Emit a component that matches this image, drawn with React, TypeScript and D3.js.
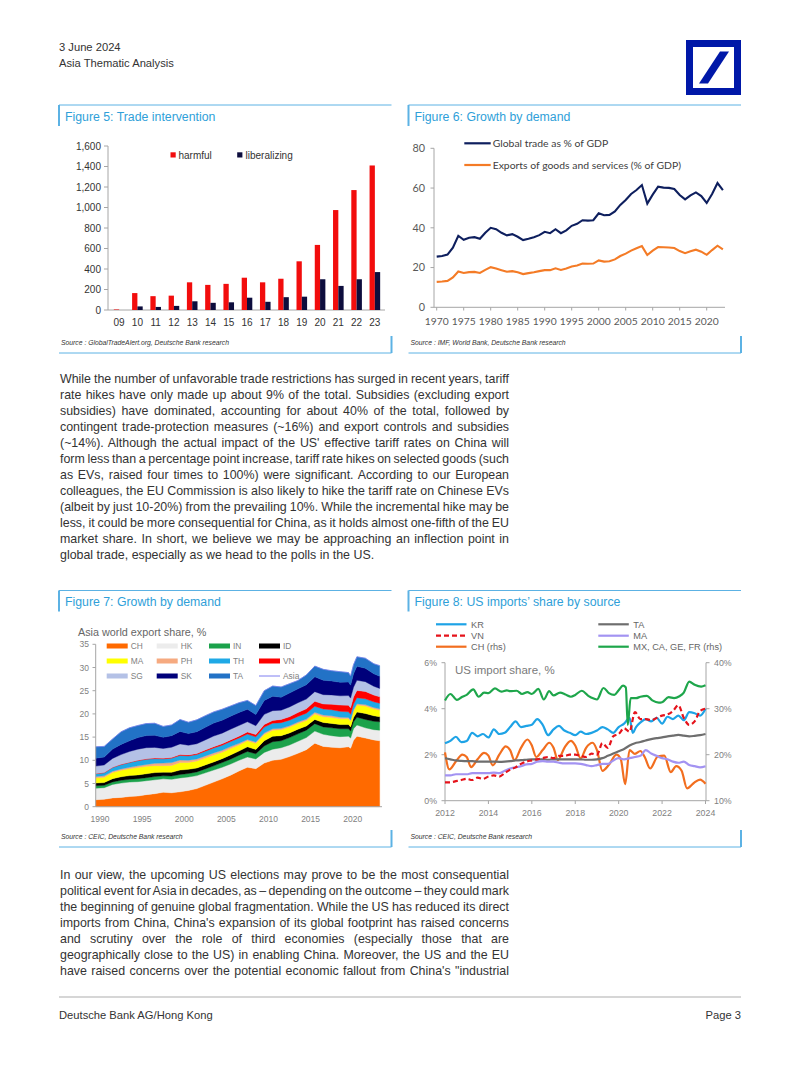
import React, { useLayoutEffect, useRef } from "react";
import * as d3 from "d3";

// ---------------- Figure 5 data ----------------
const F5_CATS = ["09", "10", "11", "12", "13", "14", "15", "16", "17", "18", "19", "20", "21", "22", "23"];
const F5_HARMFUL = [5, 165, 135, 140, 270, 245, 255, 315, 270, 305, 475, 635, 975, 1170, 1410];
const F5_LIBERAL = [0, 35, 30, 40, 85, 70, 75, 120, 80, 125, 130, 300, 235, 300, 370];
const F5_YTICKS = [0, 200, 400, 600, 800, 1000, 1200, 1400, 1600];

// ---------------- Figure 6 data ----------------
const F6_START = 1970;
const F6_TRADE = [
  25.5, 25.8, 26.5, 30.0, 36.0, 34.0, 35.0, 35.3, 34.5, 37.5,
  40.0, 39.3, 37.5, 36.2, 36.8, 35.5, 33.8, 34.5, 35.3, 36.3,
  38.0, 37.3, 39.3, 37.3, 38.7, 41.0, 42.0, 43.8, 43.6, 43.8,
  47.3, 46.3, 46.5, 48.2, 51.5, 54.0, 57.0, 59.0, 61.5, 52.2,
  56.7, 60.7, 60.2, 60.1, 59.5, 56.5, 54.3, 56.3, 57.8, 56.0,
  52.5, 57.0, 62.5, 59.0,
];
const F6_EXPORTS = [
  12.8, 13.0, 13.3, 15.0, 18.0, 17.3, 17.7, 17.8, 17.3, 18.8,
  20.2, 19.5, 18.7, 17.9, 18.2, 17.6, 16.7, 17.2, 17.6, 18.2,
  18.7, 18.7, 19.6, 18.8, 19.5, 20.5, 21.0, 22.0, 21.9, 22.0,
  23.6, 23.0, 23.2, 24.1, 25.8, 27.0, 28.5, 29.7, 30.8, 26.3,
  28.5, 30.3, 30.2, 30.1, 29.8, 28.3, 27.2, 28.2, 29.0, 28.0,
  26.4, 28.8, 31.0, 29.2,
];
const F6_YTICKS = [0, 20, 40, 60, 80];
const F6_XTICKS = [1970, 1975, 1980, 1985, 1990, 1995, 2000, 2005, 2010, 2015, 2020];
const F6_LABELS = ["Global trade as % of GDP", "Exports of goods and services (% of GDP)"];

// ---------------- Figure 7 data ----------------
const F7_DATES = [
  1990, 1991, 1992, 1993, 1994, 1995, 1996, 1997, 1998, 1999,
  2000, 2001, 2002, 2003, 2004, 2005, 2006, 2007, 2008, 2009,
  2010, 2011, 2012, 2013, 2014, 2015, 2016, 2017, 2018, 2019,
  2020, 2020.25, 2020.6, 2021, 2022, 2023, 2023.7,
];
const F7_CH = [1.5, 1.6, 1.9, 2.0, 2.2, 2.3, 2.6, 2.8, 3.1, 3.0, 3.2, 3.5, 3.9, 4.6, 5.3, 6.0, 6.8, 7.7, 8.5, 8.2, 9.4, 10.0, 10.2, 10.8, 11.5, 12.3, 13.7, 13.0, 12.8, 12.7, 12.9, 12.6, 14.3, 15.2, 14.8, 14.4, 14.2];
const F7_HK = [2.5, 2.5, 2.9, 3.1, 3.1, 3.1, 3.0, 3.0, 2.9, 2.9, 3.0, 2.9, 2.8, 2.7, 2.6, 2.5, 2.4, 2.3, 2.2, 2.1, 2.3, 2.4, 2.5, 2.5, 2.6, 2.6, 2.6, 2.6, 2.5, 2.4, 2.3, 2.2, 2.5, 2.4, 2.2, 2.2, 2.3];
const F7_IN = [0.5, 0.5, 0.55, 0.6, 0.6, 0.65, 0.65, 0.7, 0.65, 0.7, 0.75, 0.75, 0.8, 0.85, 0.9, 1.0, 1.05, 1.1, 1.2, 1.1, 1.4, 1.6, 1.5, 1.6, 1.6, 1.6, 1.6, 1.6, 1.7, 1.7, 1.6, 1.5, 1.5, 1.7, 1.8, 1.8, 1.8];
const F7_ID = [0.6, 0.6, 0.7, 0.75, 0.8, 0.8, 0.85, 0.85, 0.8, 0.8, 0.95, 0.9, 0.85, 0.85, 0.85, 0.85, 0.9, 0.9, 1.0, 0.95, 1.1, 1.2, 1.1, 1.0, 1.0, 0.9, 0.9, 0.95, 0.95, 0.9, 0.9, 0.9, 0.9, 1.1, 1.3, 1.2, 1.1];
const F7_MA = [1.1, 1.15, 1.3, 1.4, 1.5, 1.6, 1.6, 1.5, 1.4, 1.5, 1.6, 1.5, 1.5, 1.5, 1.5, 1.4, 1.4, 1.3, 1.3, 1.3, 1.35, 1.3, 1.3, 1.25, 1.25, 1.2, 1.2, 1.25, 1.3, 1.25, 1.25, 1.2, 1.4, 1.5, 1.6, 1.5, 1.4];
const F7_PH = [0.3, 0.3, 0.3, 0.3, 0.3, 0.35, 0.4, 0.5, 0.55, 0.6, 0.55, 0.45, 0.45, 0.45, 0.45, 0.4, 0.4, 0.35, 0.3, 0.3, 0.35, 0.3, 0.3, 0.3, 0.3, 0.3, 0.35, 0.35, 0.35, 0.35, 0.3, 0.3, 0.3, 0.3, 0.3, 0.3, 0.3];
const F7_TH = [0.6, 0.65, 0.8, 0.9, 1.0, 1.1, 1.1, 1.0, 0.9, 0.95, 1.0, 0.95, 0.95, 1.0, 1.05, 1.1, 1.1, 1.15, 1.15, 1.1, 1.25, 1.2, 1.2, 1.2, 1.2, 1.25, 1.3, 1.3, 1.3, 1.25, 1.2, 1.2, 1.25, 1.3, 1.25, 1.2, 1.2];
const F7_VN = [0.05, 0.05, 0.06, 0.08, 0.1, 0.1, 0.12, 0.13, 0.15, 0.16, 0.18, 0.2, 0.22, 0.25, 0.28, 0.3, 0.35, 0.4, 0.45, 0.5, 0.55, 0.6, 0.7, 0.75, 0.85, 0.95, 1.05, 1.1, 1.2, 1.35, 1.4, 1.4, 1.5, 1.55, 1.6, 1.45, 1.4];
const F7_SG = [1.6, 1.65, 1.9, 2.1, 2.3, 2.4, 2.4, 2.3, 2.1, 2.2, 2.3, 2.1, 2.1, 2.2, 2.3, 2.3, 2.3, 2.3, 2.2, 1.9, 2.2, 2.1, 2.0, 2.1, 2.1, 2.1, 2.1, 2.0, 2.0, 2.0, 2.1, 2.1, 2.1, 2.2, 2.1, 1.9, 1.8];
const F7_SK = [1.7, 1.7, 2.0, 2.2, 2.3, 2.5, 2.6, 2.6, 2.4, 2.5, 2.7, 2.5, 2.6, 2.7, 2.8, 2.8, 2.8, 2.8, 2.7, 2.4, 3.0, 3.1, 2.8, 3.0, 3.0, 3.1, 3.2, 3.1, 3.0, 2.9, 2.9, 2.8, 2.9, 3.0, 2.9, 2.7, 2.6];
const F7_TA = [2.45, 2.3, 2.2, 2.7, 2.8, 2.6, 2.6, 2.6, 2.35, 2.3, 2.55, 2.45, 2.55, 2.5, 2.4, 2.35, 2.2, 2.1, 1.9, 1.95, 2.1, 2.2, 2.2, 2.0, 1.8, 2.1, 2.3, 2.35, 2.2, 2.3, 2.05, 1.95, 1.95, 2.05, 2.15, 2.15, 2.3];
const F7_KEYS = ["CH", "HK", "IN", "ID", "MA", "PH", "TH", "VN", "SG", "SK", "TA"];
const F7_SERIES = [F7_CH, F7_HK, F7_IN, F7_ID, F7_MA, F7_PH, F7_TH, F7_VN, F7_SG, F7_SK, F7_TA];
const F7_LEGEND = ["CH", "HK", "IN", "ID", "MA", "PH", "TH", "VN", "SG", "SK", "TA", "Asia"];
const F7_YTICKS = [0, 5, 10, 15, 20, 25, 30, 35];
const F7_XTICKS = [1990, 1995, 2000, 2005, 2010, 2015, 2020];

// ---------------- Figure 8 data ----------------
const F8_START = 2012; // quarterly series below start here
const F8_TA = [1.85, 1.8, 1.75, 1.73, 1.72, 1.72, 1.7, 1.7, 1.7, 1.7, 1.69, 1.7, 1.72, 1.75, 1.76, 1.78, 1.8, 1.8, 1.8, 1.78, 1.8, 1.8, 1.8, 1.8, 1.8, 1.8, 1.78, 1.78, 1.8, 1.85, 1.95, 2.05, 2.15, 2.25, 2.4, 2.5, 2.55, 2.62, 2.68, 2.72, 2.75, 2.8, 2.83, 2.86, 2.83, 2.8, 2.82, 2.85, 2.9];
const F8_MA = [1.1, 1.1, 1.15, 1.15, 1.15, 1.2, 1.2, 1.2, 1.2, 1.22, 1.2, 1.3, 1.4, 1.45, 1.5, 1.58, 1.6, 1.7, 1.72, 1.7, 1.7, 1.65, 1.62, 1.62, 1.62, 1.6, 1.55, 1.5, 1.55, 1.6, 1.6, 1.75, 1.85, 1.8, 1.85, 1.9, 1.95, 2.2, 2.05, 1.95, 1.85, 1.8, 1.7, 1.65, 1.7, 1.55, 1.5, 1.45, 1.5];
const F8_VN = [0.8, 0.8, 0.85, 0.9, 0.95, 0.9, 1.0, 0.95, 1.05, 1.1, 1.05, 1.2, 1.35, 1.45, 1.6, 1.7, 1.75, 1.8, 1.85, 1.9, 1.85, 1.95, 1.95, 2.0, 2.0, 1.95, 1.9, 2.05, 2.0, 2.5, 2.3, 2.8, 2.9, 3.15, 3.0, 3.85, 3.55, 3.55, 3.5, 3.6, 3.7, 3.75, 3.9, 4.15, 3.6, 3.3, 3.45, 3.9, 4.0];
const F8_KR: [number, number][] = [
  [2012.0, 2.5], [2012.25, 2.6], [2012.5, 2.78], [2012.75, 2.55],
  [2013.0, 2.6], [2013.25, 2.95], [2013.5, 2.8], [2013.75, 2.9],
  [2014.0, 2.75], [2014.25, 3.1], [2014.5, 2.9], [2014.75, 2.95],
  [2015.0, 3.2], [2015.25, 3.45], [2015.5, 3.2], [2015.75, 3.25],
  [2016.0, 3.3], [2016.25, 3.55], [2016.5, 3.3], [2016.75, 2.85],
  [2017.0, 3.1], [2017.25, 3.25], [2017.5, 3.05], [2017.75, 2.95],
  [2018.0, 2.85], [2018.25, 3.0], [2018.5, 2.9], [2018.75, 2.95],
  [2019.0, 3.05], [2019.25, 3.2], [2019.5, 3.1], [2019.75, 2.95],
  [2020.0, 3.2], [2020.25, 3.35], [2020.5, 3.6], [2020.65, 2.95], [2020.8, 3.2],
  [2021.0, 3.4], [2021.25, 3.55], [2021.5, 3.45], [2021.75, 3.6],
  [2022.0, 3.35], [2022.25, 3.65], [2022.5, 3.55], [2022.75, 3.7],
  [2023.0, 3.5], [2023.25, 3.85], [2023.5, 3.8], [2023.75, 3.7],
  [2024.0, 4.0],
];
const F8_CH: [number, number][] = [
  [2012.0, 20.5], [2012.2, 16.8], [2012.5, 18.5], [2012.8, 20.0],
  [2013.0, 19.5], [2013.2, 17.3], [2013.5, 19.0], [2013.8, 20.4],
  [2014.0, 19.8], [2014.2, 17.7], [2014.5, 20.0], [2014.8, 21.8],
  [2015.0, 21.0], [2015.2, 18.8], [2015.5, 21.5], [2015.8, 23.3],
  [2016.0, 22.0], [2016.2, 19.5], [2016.5, 21.0], [2016.8, 22.6],
  [2017.0, 21.5], [2017.2, 18.8], [2017.5, 21.5], [2017.8, 23.0],
  [2018.0, 22.0], [2018.25, 19.2], [2018.5, 21.5], [2018.8, 22.6],
  [2019.0, 21.0], [2019.25, 16.5], [2019.55, 17.8], [2019.9, 20.0],
  [2020.1, 19.0], [2020.3, 13.6], [2020.5, 21.0], [2020.75, 20.2],
  [2021.0, 20.8], [2021.2, 19.5], [2021.45, 17.0], [2021.8, 19.6],
  [2022.1, 19.8], [2022.4, 16.2], [2022.65, 17.5], [2022.9, 16.5],
  [2023.15, 12.7], [2023.45, 13.8], [2023.75, 14.6], [2024.0, 13.7],
];
const F8_MX: [number, number][] = [
  [2012.0, 31.8], [2012.25, 33.2], [2012.55, 31.9], [2012.8, 32.6],
  [2013.0, 33.0], [2013.3, 34.2], [2013.55, 32.6], [2013.8, 33.5],
  [2014.0, 33.4], [2014.3, 34.4], [2014.6, 33.7], [2014.85, 34.0],
  [2015.0, 33.8], [2015.3, 33.9], [2015.55, 33.2], [2015.8, 33.6],
  [2016.0, 33.2], [2016.3, 34.3], [2016.55, 32.0], [2016.8, 33.8],
  [2017.0, 32.9], [2017.3, 33.5], [2017.55, 33.1], [2017.8, 32.6],
  [2018.0, 33.0], [2018.3, 33.9], [2018.6, 32.8], [2018.85, 32.2],
  [2019.0, 32.0], [2019.3, 34.5], [2019.55, 33.4], [2019.8, 33.0],
  [2020.0, 34.0], [2020.2, 35.0], [2020.33, 34.6], [2020.42, 26.5], [2020.55, 32.3], [2020.8, 32.3],
  [2021.0, 32.6], [2021.3, 32.8], [2021.55, 31.8], [2021.85, 31.3],
  [2022.0, 31.4], [2022.3, 32.5], [2022.55, 32.3], [2022.8, 32.7],
  [2023.0, 33.5], [2023.25, 35.9], [2023.5, 35.2], [2023.8, 34.8],
  [2024.0, 35.1],
];
const F8_LTICKS = [0, 2, 4, 6];
const F8_RTICKS = [10, 20, 30, 40];
const F8_XTICKS = [2012, 2014, 2016, 2018, 2020, 2022, 2024];
const F8_LEGEND = ["KR", "TA", "VN", "MA", "CH (rhs)", "MX, CA, GE, FR (rhs)"];

// ---------------- Text ----------------
const PARA1 = [
  "While the number of unfavorable trade restrictions has surged in recent years, tariff",
  "rate hikes have only made up about 9% of the total. Subsidies (excluding export",
  "subsidies) have dominated, accounting for about 40% of the total, followed by",
  "contingent trade-protection measures (~16%) and export controls and subsidies",
  "(~14%). Although the actual impact of the US' effective tariff rates on China will",
  "form less than a percentage point increase, tariff rate hikes on selected goods (such",
  "as EVs, raised four times to 100%) were significant. According to our European",
  "colleagues, the EU Commission is also likely to hike the tariff rate on Chinese EVs",
  "(albeit by just 10-20%) from the prevailing 10%. While the incremental hike may be",
  "less, it could be more consequential for China, as it holds almost one-fifth of the EU",
  "market share. In short, we believe we may be approaching an inflection point in",
  "global trade, especially as we head to the polls in the US.",
];
const PARA2 = [
  "In our view, the upcoming US elections may prove to be the most consequential",
  "political event for Asia in decades, as – depending on the outcome – they could mark",
  "the beginning of genuine global fragmentation. While the US has reduced its direct",
  "imports from China, China's expansion of its global footprint has raised concerns",
  "and scrutiny over the role of third economies (especially those that are",
  "geographically close to the US) in enabling China. Moreover, the US and the EU",
  "have raised concerns over the potential economic fallout from China's \"industrial",
];

const SANS = "'Liberation Sans', Arial, Helvetica, sans-serif";
const LATO = "Lato, 'Liberation Sans', sans-serif";
const BOX_BLUE = "#5cb2e4";
const TITLE_BLUE = "#2f9fd9";
const AXIS_GRAY = "#a6a6a6";

function Justified({ lines, x, y, lh, width, justifyLast }: any) {
  const ref = useRef<SVGGElement>(null);
  useLayoutEffect(() => {
    const g = ref.current;
    if (!g) return;
    const texts = g.querySelectorAll("text");
    texts.forEach((t: any, i: number) => {
      const justify = i < lines.length - 1 || justifyLast;
      if (!justify) return;
      t.style.wordSpacing = "0px";
      const w = t.getComputedTextLength();
      const n = (t.textContent || "").split(" ").length - 1;
      if (n > 0) t.style.wordSpacing = `${(width - w) / n}px`;
    });
  }, []);
  return (
    <g ref={ref} fontFamily={SANS} fontSize={12.4} fill="#333">
      {lines.map((l: string, i: number) => (
        <text key={i} x={x} y={y + i * lh} style={{ whiteSpace: "pre" }}>
          {l}
        </text>
      ))}
    </g>
  );
}

function FigBox({ x0, x1, yTop, yBottom, title, source }: any) {
  return (
    <g>
      <line x1={x0} x2={x1} y1={yTop} y2={yTop} stroke={BOX_BLUE} strokeWidth={1} />
      <line x1={x0} x2={x0} y1={yTop} y2={yTop + 21} stroke={BOX_BLUE} strokeWidth={2} />
      <text x={x0 + 6} y={yTop + 15.5} fontFamily={SANS} fontSize={12.3} fill={TITLE_BLUE}>
        {title}
      </text>
      <text x={x0 + 2} y={yBottom - 8} fontFamily={SANS} fontSize={6.8} fontStyle="italic" fill="#333">
        {source}
      </text>
      <line x1={x0} x2={x1} y1={yBottom} y2={yBottom} stroke={BOX_BLUE} strokeWidth={1} />
      <line x1={x1} x2={x1} y1={yBottom - 17} y2={yBottom} stroke={BOX_BLUE} strokeWidth={2} />
    </g>
  );
}

function Figure5() {
  const x = d3.scaleBand().domain(F5_CATS).range([110, 384]);
  const y = d3.scaleLinear().domain([0, 1600]).range([310, 146]);
  const bw = x.bandwidth() * 0.29;
  return (
    <g fontFamily={SANS}>
      <line x1={108} x2={108} y1={146} y2={310} stroke={AXIS_GRAY} />
      <line x1={108} x2={385} y1={310} y2={310} stroke={AXIS_GRAY} />
      {F5_YTICKS.map((t) => (
        <g key={t}>
          <line x1={104} x2={108} y1={y(t)} y2={y(t)} stroke={AXIS_GRAY} />
          <text x={101} y={y(t) + 3.5} textAnchor="end" fontSize={10} fill="#333">
            {d3.format(",")(t)}
          </text>
        </g>
      ))}
      {F5_CATS.map((c, i) => {
        const cx = (x(c) as number) + x.bandwidth() / 2;
        return (
          <g key={c}>
            <rect x={cx - bw} y={y(F5_HARMFUL[i])} width={bw} height={310 - y(F5_HARMFUL[i])} fill="#f20d0d" />
            <rect x={cx} y={y(F5_LIBERAL[i])} width={bw} height={310 - y(F5_LIBERAL[i])} fill="#0d0d3d" />
            <text x={cx} y={326} textAnchor="middle" fontSize={10} fill="#333">
              {c}
            </text>
          </g>
        );
      })}
      <rect x={170.5} y={152.3} width={5.2} height={5.2} fill="#f20d0d" />
      <text x={178.5} y={158.6} fontSize={10} fill="#333">harmful</text>
      <rect x={237.2} y={152.3} width={5.2} height={5.2} fill="#0d0d3d" />
      <text x={245.5} y={158.6} fontSize={10} fill="#333">liberalizing</text>
    </g>
  );
}

function Figure6() {
  const x = d3.scaleLinear().domain([1970, 2023]).range([436.7, 722.9]);
  const y = d3.scaleLinear().domain([0, 80]).range([307.3, 148.3]);
  const line = d3
    .line<number>()
    .x((_, i) => x(F6_START + i))
    .y((d) => y(d));
  return (
    <g fontFamily={LATO}>
      <line x1={434} x2={434} y1={148.3} y2={307.3} stroke={AXIS_GRAY} />
      <line x1={434} x2={725} y1={307.3} y2={307.3} stroke={AXIS_GRAY} />
      {F6_YTICKS.map((t) => (
        <g key={t}>
          <line x1={430.5} x2={434} y1={y(t)} y2={y(t)} stroke={AXIS_GRAY} />
          <text x={425} y={y(t) + 3.8} textAnchor="end" fontSize={10.8} fill="#595959">
            {t}
          </text>
        </g>
      ))}
      {F6_XTICKS.map((t) => (
        <g key={t}>
          <line x1={x(t)} x2={x(t)} y1={307.3} y2={310.5} stroke={AXIS_GRAY} />
          <text x={x(t)} y={325.3} textAnchor="middle" fontSize={10.3} fill="#595959">
            {t}
          </text>
        </g>
      ))}
      <path d={line(F6_EXPORTS) as string} fill="none" stroke="#f47b26" strokeWidth={2.1} />
      <path d={line(F6_TRADE) as string} fill="none" stroke="#0e1f5e" strokeWidth={2.1} />
      <line x1={464.3} x2={490.7} y1={143.3} y2={143.3} stroke="#0e1f5e" strokeWidth={2.2} />
      <text x={492.7} y={147} fontSize={10.4} fill="#404040">{F6_LABELS[0]}</text>
      <line x1={464.3} x2={490.7} y1={165} y2={165} stroke="#f47b26" strokeWidth={2.2} />
      <text x={492.7} y={168.7} fontSize={10.4} fill="#404040">{F6_LABELS[1]}</text>
    </g>
  );
}

const F7_COLORS: Record<string, string> = {
  CH: "#ff6a00",
  HK: "#ececec",
  IN: "#1ba24b",
  ID: "#000000",
  MA: "#ffff00",
  PH: "#f6aa80",
  TH: "#1fa9e6",
  VN: "#ff0000",
  SG: "#b4c1e6",
  SK: "#00007a",
  TA: "#2272c6",
  Asia: "#7f7ff0",
};

function Figure7() {
  const x = d3.scaleLinear().domain([1990, 2023.7]).range([95.8, 95.8 + 33.7 * 8.423]);
  const y = d3.scaleLinear().domain([0, 35]).range([806.7, 644.3]);
  const rows = F7_DATES.map((d, i) => {
    const r: any = { date: d };
    F7_KEYS.forEach((k, j) => (r[k] = F7_SERIES[j][i]));
    return r;
  });
  const stacked = d3.stack().keys(F7_KEYS)(rows);
  const area = d3
    .area<any>()
    .x((d) => x(d.data.date))
    .y0((d) => y(d[0]))
    .y1((d) => y(d[1]));
  const top = stacked[stacked.length - 1];
  const topLine = d3
    .line<any>()
    .x((d) => x(d.data.date))
    .y((d) => y(d[1]));
  const colX = [106.7, 156.7, 209, 259];
  const rowY = [646, 661, 676];
  return (
    <g fontFamily={SANS}>
      <text x={78} y={635.5} fontSize={10.8} fill="#666">Asia world export share, %</text>
      {stacked.map((s) => (
        <path key={s.key} d={area(s) as string} fill={F7_COLORS[s.key]} stroke={F7_COLORS[s.key]} strokeWidth={0.4} />
      ))}
      <path d={topLine(top) as string} fill="none" stroke={F7_COLORS.Asia} strokeWidth={0.7} />
      <line x1={95.7} x2={95.7} y1={644.3} y2={806.7} stroke={AXIS_GRAY} />
      <line x1={95.7} x2={382} y1={806.7} y2={806.7} stroke={AXIS_GRAY} />
      {F7_YTICKS.map((t) => (
        <g key={t}>
          <line x1={92.5} x2={95.7} y1={y(t)} y2={y(t)} stroke={AXIS_GRAY} />
          <text x={89} y={y(t) + 3} textAnchor="end" fontSize={8.5} fill="#7f7f7f">
            {t}
          </text>
        </g>
      ))}
      {F7_XTICKS.map((t) => (
        <text key={t} x={x(t + 0.5)} y={822.3} textAnchor="middle" fontSize={8.5} fill="#7f7f7f">
          {t}
        </text>
      ))}
      {F7_LEGEND.map((k, i) => {
        const cx = colX[i % 4];
        const cy = rowY[Math.floor(i / 4)];
        return (
          <g key={k}>
            {k === "Asia" ? (
              <line x1={cx} x2={cx + 21} y1={cy} y2={cy} stroke={F7_COLORS.Asia} strokeWidth={1} />
            ) : (
              <rect x={cx} y={cy - 2.5} width={21} height={5} fill={F7_COLORS[k]} />
            )}
            <text x={cx + 24} y={cy + 3} fontSize={8.4} fill="#7f7f7f">
              {k}
            </text>
          </g>
        );
      })}
    </g>
  );
}

const F8_COLORS: Record<string, string> = {
  KR: "#1ea3e6",
  TA: "#6e6e6e",
  VN: "#e5131b",
  MA: "#a393f2",
  CH: "#f26e1f",
  MX: "#1ea64b",
};

function Figure8() {
  const x = d3.scaleLinear().domain([2012, 2024]).range([445, 705.5]);
  const yL = d3.scaleLinear().domain([0, 6]).range([800.7, 662.7]);
  const yR = d3.scaleLinear().domain([10, 40]).range([800.7, 662.7]);
  const q = (arr: number[]) => arr.map((v, i) => [F8_START + i * 0.25, v] as [number, number]);
  const lineL = d3
    .line<[number, number]>()
    .x((d) => x(d[0]))
    .y((d) => yL(d[1]))
    .curve(d3.curveMonotoneX);
  const lineR = d3
    .line<[number, number]>()
    .x((d) => x(d[0]))
    .y((d) => yR(d[1]))
    .curve(d3.curveMonotoneX);
  const legendPos = [
    [436, 624.3],
    [598.3, 624.3],
    [436, 635.7],
    [598.3, 635.7],
    [436, 646.7],
    [598.3, 646.7],
  ];
  const legendColors = [F8_COLORS.KR, F8_COLORS.TA, F8_COLORS.VN, F8_COLORS.MA, F8_COLORS.CH, F8_COLORS.MX];
  return (
    <g fontFamily={SANS}>
      <line x1={445} x2={445} y1={662.7} y2={800.7} stroke={AXIS_GRAY} />
      <line x1={706} x2={706} y1={662.7} y2={800.7} stroke={AXIS_GRAY} />
      <line x1={445} x2={706} y1={800.7} y2={800.7} stroke={AXIS_GRAY} />
      {F8_LTICKS.map((t) => (
        <g key={t}>
          <line x1={441.5} x2={445} y1={yL(t)} y2={yL(t)} stroke={AXIS_GRAY} />
          <text x={437} y={yL(t) + 3.2} textAnchor="end" fontSize={8.8} fill="#7f7f7f">
            {t}%
          </text>
        </g>
      ))}
      {F8_RTICKS.map((t) => (
        <g key={t}>
          <line x1={706} x2={709.5} y1={yR(t)} y2={yR(t)} stroke={AXIS_GRAY} />
          <text x={714} y={yR(t) + 3.2} fontSize={8.8} fill="#7f7f7f">
            {t}%
          </text>
        </g>
      ))}
      {F8_XTICKS.map((t) => (
        <g key={t}>
          <line x1={x(t)} x2={x(t)} y1={800.7} y2={804} stroke={AXIS_GRAY} />
          <text x={x(t)} y={815.8} textAnchor="middle" fontSize={8.8} fill="#7f7f7f">
            {t}
          </text>
        </g>
      ))}
      <text x={455} y={674} fontSize={11.5} fill="#7a7a7a">US import share, %</text>
      <path d={lineR(F8_CH) as string} fill="none" stroke={F8_COLORS.CH} strokeWidth={2.2} />
      <path d={lineL(q(F8_TA)) as string} fill="none" stroke={F8_COLORS.TA} strokeWidth={2.2} />
      <path d={lineL(q(F8_MA)) as string} fill="none" stroke={F8_COLORS.MA} strokeWidth={2.2} />
      <path d={lineL(F8_KR) as string} fill="none" stroke={F8_COLORS.KR} strokeWidth={2.2} />
      <path d={lineL(q(F8_VN)) as string} fill="none" stroke={F8_COLORS.VN} strokeWidth={2.2} strokeDasharray="5,3" />
      <path d={lineR(F8_MX) as string} fill="none" stroke={F8_COLORS.MX} strokeWidth={2.2} />
      {F8_LEGEND.map((k, i) => {
        const [lx, ly] = legendPos[i];
        return (
          <g key={k}>
            <line
              x1={lx}
              x2={lx + 30.5}
              y1={ly}
              y2={ly}
              stroke={legendColors[i]}
              strokeWidth={2.2}
              strokeDasharray={k === "VN" ? "5,3" : undefined}
            />
            <text x={lx + 35} y={ly + 3.3} fontSize={9.2} fill="#666">
              {k}
            </text>
          </g>
        );
      })}
    </g>
  );
}

export default function App() {
  return (
    <svg
      width={802}
      height={1068}
      viewBox="0 0 802 1068"
      style={{ position: "absolute", left: 0, top: 0, background: "#fff", display: "block" }}
    >
      <rect x={0} y={0} width={802} height={1068} fill="#fff" />
      {/* header */}
      <text x={59} y={50.5} fontFamily={SANS} fontSize={11.2} fill="#333">3 June 2024</text>
      <text x={59} y={67} fontFamily={SANS} fontSize={11.2} fill="#333">Asia Thematic Analysis</text>
      <rect x={686} y={40} width={55} height={55} fill="#0018a8" />
      <rect x={693} y={47} width={41} height={41} fill="#fff" />
      <polygon points="699,83.5 708,83.5 729,51.5 720,51.5" fill="#0018a8" />

      <FigBox x0={59} x1={391.5} yTop={105} yBottom={353} title="Figure 5: Trade intervention" source="Source : GlobalTradeAlert.org, Deutsche Bank research" />
      <FigBox x0={408.5} x1={741} yTop={105} yBottom={353} title="Figure 6: Growth by demand" source="Source : IMF, World Bank, Deutsche Bank research" />
      <Figure5 />
      <Figure6 />

      <Justified lines={PARA1} x={60} y={382.8} lh={16} width={449} justifyLast={false} />

      <FigBox x0={59} x1={391.5} yTop={590.5} yBottom={847} title="Figure 7: Growth by demand" source="Source : CEIC, Deutsche Bank research" />
      <FigBox x0={408.5} x1={741} yTop={590.5} yBottom={847} title="Figure 8: US imports’ share by source" source="Source : CEIC, Deutsche Bank research" />
      <Figure7 />
      <Figure8 />

      <Justified lines={PARA2} x={60} y={878.5} lh={16} width={449} justifyLast={true} />

      {/* footer */}
      <line x1={59} x2={741} y1={997} y2={997} stroke="#c8c8c8" strokeWidth={1.5} />
      <text x={59} y={1019} fontFamily={SANS} fontSize={11.2} fill="#333">Deutsche Bank AG/Hong Kong</text>
      <text x={741} y={1019} textAnchor="end" fontFamily={SANS} fontSize={11.2} fill="#333">Page 3</text>
    </svg>
  );
}
